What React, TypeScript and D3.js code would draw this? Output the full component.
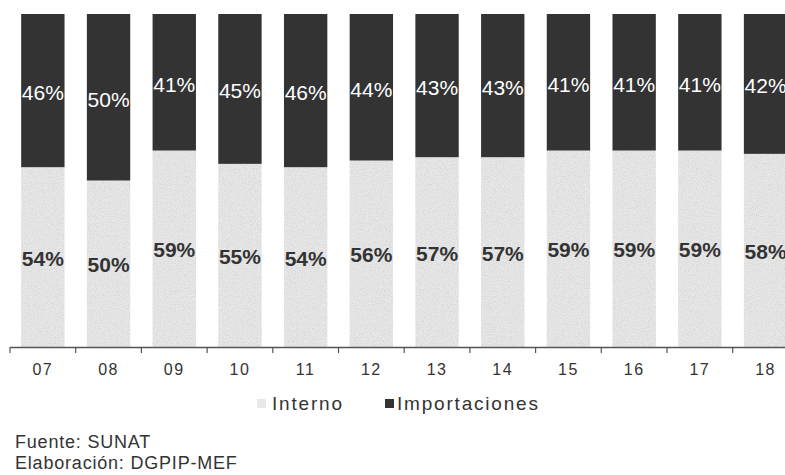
import React from "react";
import * as d3 from "d3";

// Share of domestic vs imported supply, by year (percent)
const years = ["07", "08", "09", "10", "11", "12", "13", "14", "15", "16", "17", "18"];
const interno = [54, 50, 59, 55, 54, 56, 57, 57, 59, 59, 59, 58];
const importaciones = [46, 50, 41, 45, 46, 44, 43, 43, 41, 41, 41, 42];
const seriesNames = ["Interno", "Importaciones"];
const sourceLines = ["Fuente: SUNAT", "Elaboración: DGPIP-MEF"];

const W = 785;
const H = 475;
const FONT = "'Liberation Sans', Arial, Helvetica, sans-serif";
const LIGHT = "#e8e8e8";
const DARK = "#333333";

export default function App() {
  const x = d3
    .scaleBand<string>()
    .domain(years)
    .range([10, 10 + 65.7 * years.length])
    .paddingInner(0.34)
    .paddingOuter(0.17);
  const y = d3.scaleLinear().domain([0, 100]).range([347, 14]);

  const rows = years.map((yr, i) => ({ yr, Interno: interno[i], Importaciones: importaciones[i] }));
  const stack = d3.stack<any>().keys(seriesNames)(rows);
  const step = x.step();
  const x0 = 10;

  return (
    <svg
      width={W}
      height={H}
      style={{ position: "absolute", left: 0, top: 0, background: "#ffffff" }}
      fontFamily={FONT}
    >
      <defs>
        {/* speckled print texture for the light segments */}
        <filter id="grain" x="0" y="0" width="1" height="1">
          <feTurbulence type="fractalNoise" baseFrequency="0.85" numOctaves={2} seed={7} result="noise" />
          <feColorMatrix
            in="noise"
            type="matrix"
            values="0 0 0 0 0.62  0 0 0 0 0.62  0 0 0 0 0.62  1.7 0 0 0 -0.65"
            result="dots"
          />
          <feComposite in="dots" in2="SourceGraphic" operator="in" result="clipped" />
          <feMerge>
            <feMergeNode in="SourceGraphic" />
            <feMergeNode in="clipped" />
          </feMerge>
        </filter>
      </defs>

      {stack.map((layer, li) =>
        layer.map((d, i) => {
          const bx = x(years[i])!;
          const top = y(d[1]);
          const bot = y(d[0]);
          return (
            <rect
              key={`${li}-${i}`}
              x={bx}
              y={top}
              width={x.bandwidth()}
              height={bot - top}
              fill={li === 0 ? LIGHT : DARK}
              filter={li === 0 ? "url(#grain)" : undefined}
            />
          );
        })
      )}

      {/* value labels */}
      {stack.map((layer, li) =>
        layer.map((d, i) => {
          const cx = x(years[i])! + x.bandwidth() / 2;
          const cy = (y(d[0]) + y(d[1])) / 2;
          const v = li === 0 ? interno[i] : importaciones[i];
          return (
            <text
              key={`l${li}-${i}`}
              x={cx}
              y={cy + (li === 1 ? 2 : 1)}
              dy="0.36em"
              textAnchor="middle"
              fontSize={21}
              fontWeight={li === 0 ? "bold" : "normal"}
              fill={li === 0 ? "#333333" : "#ffffff"}
            >
              {`${v}%`}
            </text>
          );
        })
      )}

      {/* category axis */}
      <line x1={x0} x2={W} y1={347.5} y2={347.5} stroke="#555" strokeWidth={1.5} />
      {years.map((yr, i) => (
        <line
          key={`t${i}`}
          x1={x0 + step * i}
          x2={x0 + step * i}
          y1={347}
          y2={353}
          stroke="#555"
          strokeWidth={1.2}
        />
      ))}
      {years.map((yr) => (
        <text
          key={`x${yr}`}
          x={x(yr)! + x.bandwidth() / 2}
          y={375}
          textAnchor="middle"
          fontSize={16}
          letterSpacing={1.5}
          fill="#333"
        >
          {yr}
        </text>
      ))}

      {/* legend */}
      <rect x={257} y={399} width={9} height={9} fill={LIGHT} />
      <text x={272} y={410} fontSize={19} letterSpacing={1.8} fill="#333">
        {seriesNames[0]}
      </text>
      <rect x={385} y={399} width={9} height={9} fill={DARK} />
      <text x={397} y={410} fontSize={19} letterSpacing={1.8} fill="#333">
        {seriesNames[1]}
      </text>

      {/* source notes */}
      {sourceLines.map((s, i) => (
        <text key={s} x={15} y={448 + i * 21} fontSize={18} letterSpacing={0.8} fill="#333">
          {s}
        </text>
      ))}
    </svg>
  );
}
